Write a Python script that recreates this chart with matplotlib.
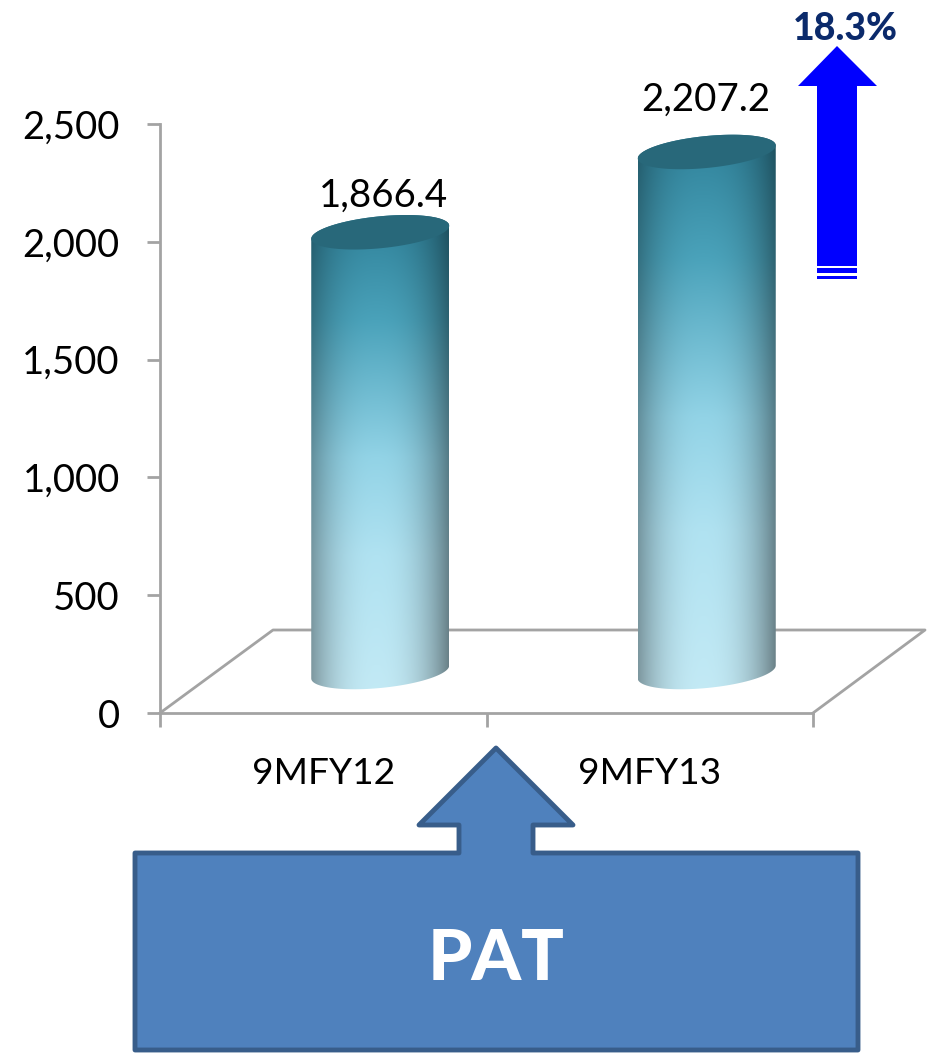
import numpy as np
import matplotlib
matplotlib.use("Agg")
import matplotlib.pyplot as plt
from matplotlib.patches import Polygon
from matplotlib.path import Path
from matplotlib.patches import PathPatch

categories = ["9MFY12", "9MFY13"]
values = [1866.4, 2207.2]
value_labels = ["1,866.4", "2,207.2"]
y_ticks = [0, 500, 1000, 1500, 2000, 2500]
y_tick_labels = ["0", "500", "1,000", "1,500", "2,000", "2,500"]
growth_label = "18.3%"
callout_label = "PAT"
label_offsets_px = [(3, 19), (-1, 34)]

FONT = "Lato"
GREY = "#a3a3a3"
W, H = 932, 1056
plt.rcParams["font.family"] = [FONT, "DejaVu Sans"]

fig = plt.figure(figsize=(W / 100, H / 100), dpi=100, facecolor="white")
L, R, T, B = 160, 813, 124, 713
ax = fig.add_axes([L / W, (H - B) / H, (R - L) / W, (B - T) / H])
ax.set_xlim(-0.5, 1.5)
ax.set_ylim(0, 2500)
ax.patch.set_alpha(0)
for s in ("top", "right"):
    ax.spines[s].set_visible(False)
for s in ("left", "bottom"):
    ax.spines[s].set_color(GREY)
    ax.spines[s].set_linewidth(2)

px_x = 2.0 / (R - L)          # category units per pixel
px_y = 2500.0 / (B - T)       # value units per pixel
floor_dx, floor_dy = 57 * px_x, 41 * px_y   # 3-D floor depth offset

ax.set_yticks(y_ticks, y_tick_labels)
ax.set_xticks([0, 1], categories)
ax.set_xticks([-0.5, 0.5, 1.5], minor=True)
ax.tick_params(axis="y", length=9.5, width=2, color=GREY, labelsize=27.5, pad=19.5, labelcolor="black")
ax.tick_params(axis="x", which="major", length=0, labelsize=26.7, pad=31.5, labelcolor="black")
ax.tick_params(axis="x", which="minor", length=10, width=2, color=GREY)

# floor of the 3-D plot
floor_x = [-0.5, -0.5 + 113 * px_x, 1.5 + 112 * px_x, 1.5]
floor_y = [0, 83 * px_y, 83 * px_y, 0]
ax.plot(floor_x, floor_y, color=GREY, lw=2, clip_on=False, zorder=1)

# cylinders
A, BB, TILT = 69 * px_x, 16 * px_y, 6.5 * px_y
t = np.linspace(0, 2 * np.pi, 121)
nx, ny = 200, 300
u = np.linspace(-1, 1, nx)
v = np.linspace(0, 1, ny)  # 0 at top
stops_v = [0.0, 0.22, 0.5, 0.7, 1.0]
stops_c = np.array([[0x2e, 0x80, 0x98], [0x4a, 0xa2, 0xba], [0x92, 0xd3, 0xe6],
                    [0xb0, 0xe2, 0xf1], [0xc4, 0xea, 0xf5]], float) / 255
col = np.stack([np.interp(v, stops_v, stops_c[:, i]) for i in range(3)], axis=1)
shade_edge = np.interp(v, [0, 1], [0.62, 0.55])
img = np.zeros((ny, nx, 3))
for j in range(ny):
    f = 1 - (1 - shade_edge[j]) * np.clip(np.abs(u + 0.05) / 1.05, 0, 1) ** 2.4
    img[j] = col[j][None, :] * f[:, None]

for i, val in enumerate(values):
    cx = i + floor_dx
    y0 = floor_dy
    y1 = floor_dy + val
    tb = np.linspace(np.pi, 2 * np.pi, 60)   # lower half
    tt = np.linspace(0, np.pi, 60)           # upper half
    bx = cx + A * np.cos(tb)
    by = y0 + TILT * np.cos(tb) + BB * np.sin(tb)
    ux = cx + A * np.cos(tt)
    uy = y1 + TILT * np.cos(tt) + BB * np.sin(tt)
    verts = np.vstack([np.c_[bx, by], np.c_[ux, uy], [[bx[0], by[0]]]])
    body = Path(verts)
    im = ax.imshow(img, extent=[cx - A, cx + A, y0 - 30 * px_y, y1 + 20 * px_y],
                   aspect="auto", zorder=3, interpolation="bilinear")
    im.set_clip_path(PathPatch(body, transform=ax.transData))
    im.set_clip_on(True)
    top = np.c_[cx + A * np.cos(t), y1 + TILT * np.cos(t) + BB * np.sin(t)]
    ax.add_patch(Polygon(top, closed=True, facecolor="#28687a", edgecolor="none", zorder=4))
    ox, oy = label_offsets_px[i]
    ax.annotate(value_labels[i], (cx, y1), xytext=(ox * 0.72, oy * 0.72), textcoords="offset points",
                ha="center", va="bottom", fontsize=27.7, color="black", zorder=5,
                annotation_clip=False)
ax.set_xlim(-0.5, 1.5)
ax.set_ylim(0, 2500)

# annotation layer in pixel coordinates
ov = fig.add_axes([0, 0, 1, 1], zorder=5)
ov.set_xlim(0, W)
ov.set_ylim(H, 0)
ov.axis("off")
ov.patch.set_alpha(0)

arrow = [(837, 46), (877, 86), (857, 86), (857, 266), (817, 266), (817, 86), (798, 86)]
ov.add_patch(Polygon(arrow, closed=True, fc="#0000ff", ec="none"))
ov.add_patch(Polygon([(817, 268), (857, 268), (857, 273), (817, 273)], closed=True, fc="#0000ff", ec="none"))
ov.add_patch(Polygon([(817, 276), (857, 276), (857, 279), (817, 279)], closed=True, fc="#0000ff", ec="none"))
ov.text(845, 29, growth_label, ha="center", va="center", fontsize=27, fontweight="black", color="#0b2a6b")

callout = [(135, 853), (459, 853), (459, 825), (419, 825), (496, 748), (573, 825),
           (533, 825), (533, 853), (858, 853), (858, 1050), (135, 1050)]
ov.add_patch(Polygon(callout, closed=True, fc="#4f81bd", ec="#385d8a", lw=3.5, joinstyle="round"))
ov.text(496, 959, callout_label, ha="center", va="center", fontsize=51, fontweight="black", color="white")

fig.savefig("out.png", dpi=100)
